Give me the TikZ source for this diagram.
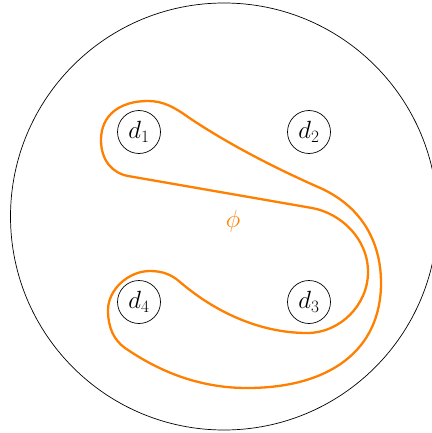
\documentclass[tikz,border=0pt]{standalone}
\usepackage{amsmath}
\definecolor{phiorange}{RGB}{255,128,0}
\begin{document}
\begin{tikzpicture}[x=1pt,y=-1pt,
  disc/.style={draw,circle,line width=0.7pt,minimum size=43pt,inner sep=0pt,font=\fontsize{25}{30}\selectfont},
  loopline/.style={draw=phiorange,line width=2.3pt,line join=round}]
\useasboundingbox (0,0) rectangle (431,433);
\node[draw,circle,line width=0.7pt,minimum size=427pt,inner sep=0pt] (outer) at (224,216.5) {};
\node[disc] (d1) at (139,132) {$d_1$};
\node[disc] (d2) at (309,132) {$d_2$};
\node[disc] (d3) at (309,302) {$d_3$};
\node[disc] (d4) at (139,302) {$d_4$};
\node[text=phiorange,font=\fontsize{25}{30}\selectfont] (phi) at (233,221) {$\phi$};
\path[loopline] (128,176) -- (312,208)
  .. controls (340,213) and (368,238) .. (368,272)
  .. controls (368,305) and (340,333) .. (307,333)
  .. controls (260,333) and (215,312) .. (180,282)
  .. controls (172,275) and (163,271) .. (150,271)
  .. controls (128,271) and (108,290) .. (108,310)
  .. controls (108,328) and (114,340) .. (125,348)
  .. controls (160,372) and (200,388) .. (247,388)
  .. controls (330,388) and (381,350) .. (381,283)
  .. controls (381,240) and (360,205) .. (318,187)
  .. controls (275,168) and (228,144) .. (188,117)
  .. controls (174,107) and (163,101) .. (148,101)
  .. controls (120,101) and (101,115) .. (101,140)
  .. controls (101,160) and (112,173) .. (128,176) -- cycle;
\end{tikzpicture}
\end{document}
